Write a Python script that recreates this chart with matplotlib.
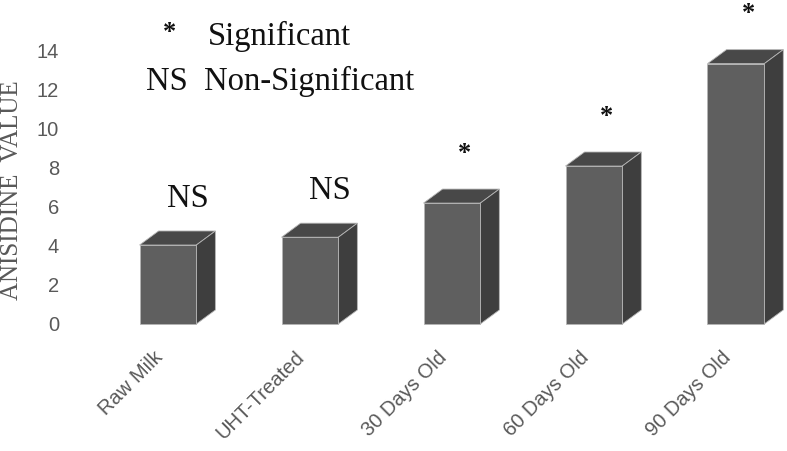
import numpy as np
import matplotlib.pyplot as plt
from matplotlib.patches import Polygon
from matplotlib.transforms import ScaledTranslation

# data
groups = ["Raw Milk", "UHT-Treated", "30 Days Old", "60 Days Old", "90 Days Old"]
anisidine = [4.05, 4.45, 6.2, 8.1, 13.35]
marks = ["NS", "NS", "*", "*", "*"]
y_ticks = [0, 2, 4, 6, 8, 10, 12, 14]

W, H = 787, 451
fig = plt.figure(figsize=(W / 100, H / 100), dpi=100)
ax = fig.add_axes([70 / W, 1 - 345 / H, 1 - 70 / W, 345 / H])

front_c = "#5f5f5f"
top_c = "#484848"
side_c = "#3e3e3e"
edge_c = "#b5b5b5"
txt_gray = "#595959"
ink = "#111111"

x = np.arange(len(groups))
bw = 0.40          # front face width
dx, dy = 0.134, 0.72   # fake 3d depth

ax.bar(x, anisidine, width=bw, color=front_c, edgecolor=edge_c, linewidth=0.6, zorder=3)
for xi, v in zip(x, anisidine):
    l, r = xi - bw / 2, xi + bw / 2
    top = Polygon([(l, v), (r, v), (r + dx, v + dy), (l + dx, v + dy)],
                  closed=True, facecolor=top_c, edgecolor=edge_c, linewidth=0.6, zorder=2)
    side = Polygon([(r, 0), (r + dx, dy), (r + dx, v + dy), (r, v)],
                   closed=True, facecolor=side_c, edgecolor=edge_c, linewidth=0.6, zorder=2)
    ax.add_patch(top)
    ax.add_patch(side)

# significance marks above bars
for xi, v, m in zip(x, anisidine, marks):
    if m == "NS":
        ax.text(xi + 0.14, v + 1.95, m, ha="center", va="baseline",
                fontsize=23.5, family="Liberation Serif", color=ink)
    else:
        ax.text(xi + 0.09, v + 2.55, m, ha="center", va="center",
                fontsize=19, fontweight="bold", family="Liberation Serif", color=ink)

ax.set_xlim(-0.69, 4.36)
ax.set_ylim(-1.077, 16.615)
ax.set_yticks(y_ticks)
ax.set_yticklabels([str(t) for t in y_ticks], fontsize=14.5,
                   family="Liberation Sans", color=txt_gray)
ax.set_xticks(x)
ax.set_xticklabels(groups, rotation=45, ha="right", va="center",
                   rotation_mode="anchor", fontsize=14.5,
                   family="Liberation Sans", color=txt_gray)
ax.tick_params(axis="both", length=0)
ax.tick_params(axis="y", pad=8)
ax.tick_params(axis="x", pad=7)
for s in ax.spines.values():
    s.set_visible(False)

# labels sit a little left of the bar centre, as in the original
shift = ScaledTranslation(-6 / 72, 0, fig.dpi_scale_trans)
for lab in ax.get_xticklabels():
    lab.set_transform(lab.get_transform() + shift)

fig.text(12 / W, 1 - 190 / H, "ANISIDINE  VALUE", rotation=90, ha="center", va="center",
         fontsize=18, family="Liberation Serif", color=txt_gray)

# legend written as text
fig.text(170 / W, 1 - 33 / H, "*", ha="center", va="center",
         fontsize=19, fontweight="bold", family="Liberation Serif", color=ink)
fig.text(208 / W, 1 - 45 / H, "Significant", ha="left", va="baseline",
         fontsize=23.5, family="Liberation Serif", color=ink)
fig.text(146 / W, 1 - 90 / H, "NS", ha="left", va="baseline",
         fontsize=23.5, family="Liberation Serif", color=ink)
fig.text(204 / W, 1 - 90 / H, "Non-Significant", ha="left", va="baseline",
         fontsize=23.5, family="Liberation Serif", color=ink)

fig.savefig("out.png", dpi=100)
